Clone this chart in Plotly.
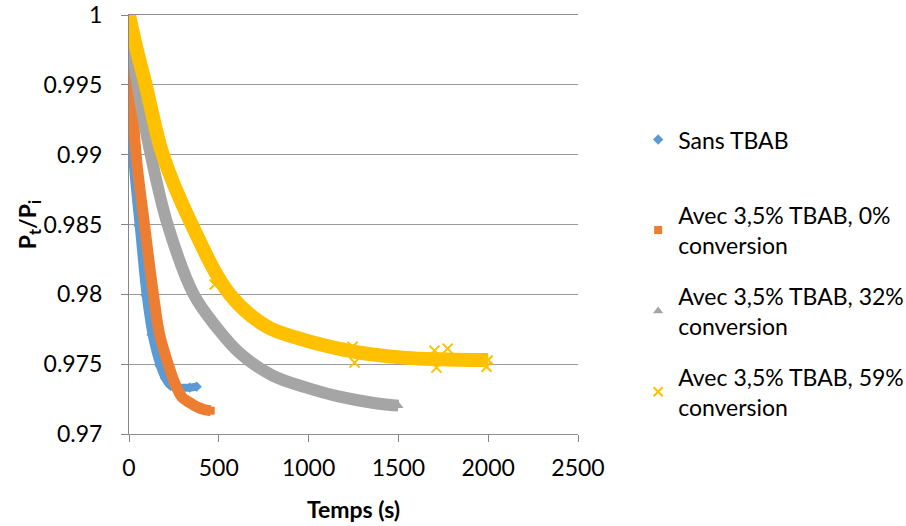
import plotly.graph_objects as go

# =============================================================================
# data (time in s, Pt/Pi)
# =============================================================================

sans_x = [0, 4, 9.5, 18, 54, 93, 126, 171, 199, 232, 282, 338, 377]
sans_y = [1.0, 0.99753, 0.99495, 0.98994, 0.98492, 0.97991, 0.97711, 0.97489,
          0.97403, 0.97346, 0.97332, 0.97332, 0.97339]

c0_x = [0, 6.7, 15, 40, 87, 137, 171, 221, 254, 293, 338, 377, 421, 455]
c0_y = [1.0, 0.99753, 0.99495, 0.98994, 0.98492, 0.97991, 0.97711, 0.97489,
        0.97367, 0.97267, 0.97224, 0.97195, 0.97174, 0.97167]

c32_x = [0, 20.6, 48, 121, 215, 360, 489, 616, 800, 989, 1173, 1356, 1500]
c32_y = [1.0, 0.99753, 0.995, 0.99, 0.985, 0.98, 0.97762, 0.9758,
         0.97418, 0.97332, 0.97267, 0.97224, 0.97203]

c59_x = [0, 43, 93, 188, 349, 561, 767, 950, 1173, 1356, 1545, 1729, 1913, 2000]
c59_y = [1.0, 0.99753, 0.995, 0.99, 0.985, 0.98, 0.97769, 0.97683, 0.9761,
         0.9757, 0.97545, 0.97535, 0.9753, 0.9753]

# a few stray points visible around the 59% band
c59_out_x = [477, 1245, 1256, 1701, 1774, 1712, 1991]
c59_out_y = [0.9807, 0.97625, 0.97511, 0.97597, 0.97611, 0.97475, 0.97482]

names = ['Sans TBAB', 'Avec 3,5% TBAB, 0%<br>conversion',
         'Avec 3,5% TBAB, 32%<br>conversion', 'Avec 3,5% TBAB, 59%<br>conversion']

y_ticks = [0.97, 0.975, 0.98, 0.985, 0.99, 0.995, 1]
y_ticktext = ['0.97', '0.975', '0.98', '0.985', '0.99', '0.995', '1']

# =============================================================================
# figure
# =============================================================================

FONT = 'Lato'
FS = 23
series = [
    (sans_x, sans_y, '#5B9BD5', 8, 'diamond', 8, 'legend2'),
    (c0_x, c0_y, '#ED7D31', 11, 'square', 8, 'legend'),
    (c32_x, c32_y, '#A5A5A5', 12, 'triangle-up', 9, 'legend'),
    (c59_x, c59_y, '#FFC000', 14, 'x-thin', 9, 'legend'),
]

fig = go.Figure()
for i, (xs, ys, col, w, sym, sz, leg) in enumerate(series):
    # dense band of points drawn as a thick line
    fig.add_trace(go.Scatter(
        x = xs, y = ys, mode = 'lines', line = dict(color = col, width = w, shape = 'spline'),
        showlegend = False, hoverinfo = 'skip', legendgroup = 'g%d' % i, legend = leg
    ))
    fig.add_trace(go.Scatter(
        x = xs, y = ys, mode = 'markers', name = names[i], legendgroup = 'g%d' % i, legend = leg,
        marker = dict(symbol = sym, size = sz, color = col,
                      line = dict(color = col, width = 2 if sym == 'x-thin' else 0))
    ))

fig.add_trace(go.Scatter(
    x = c59_out_x, y = c59_out_y, mode = 'markers', showlegend = False, legendgroup = 'g3',
    marker = dict(symbol = 'x-thin', size = 10, color = '#FFC000', line = dict(color = '#FFC000', width = 2))
))

fig.update_layout(
    width = 906, height = 526,
    margin = dict(l = 129, r = 328, t = 15, b = 92, autoexpand = False),
    plot_bgcolor = 'white', paper_bgcolor = 'white',
    font = dict(family = FONT, size = FS, color = 'black'),
    legend = dict(x = 1.134, xanchor = 'left', y = 0.5735, yanchor = 'top',
                  font = dict(size = FS), tracegroupgap = 18, bgcolor = 'rgba(0,0,0,0)'),
    legend2 = dict(x = 1.134, xanchor = 'left', y = 0.754, yanchor = 'top',
                   font = dict(size = FS), bgcolor = 'rgba(0,0,0,0)'),
)

# mirror puts a grey line along the top edge, where the y = 1 gridline sits
fig.update_xaxes(
    range = [0, 2500], dtick = 500, tick0 = 0, automargin = False,
    showgrid = False, zeroline = False, mirror = True,
    showline = True, linecolor = '#8e8e8e', linewidth = 1,
    ticks = 'outside', ticklen = 7, tickcolor = '#868686', ticklabelstandoff = 6,
    title = dict(text = '<b>Temps (s)</b>', font = dict(size = FS), standoff = 22)
)
fig.update_yaxes(
    range = [0.97, 1], tickvals = y_ticks, ticktext = y_ticktext, automargin = False,
    showgrid = True, gridcolor = '#9a9a9a', gridwidth = 1, zeroline = False,
    showline = True, linecolor = '#868686', linewidth = 1,
    ticks = 'outside', ticklen = 7, tickcolor = '#868686', ticklabelstandoff = 14,
    title = dict(text = '<b>P<sub>t</sub>/P<sub>i</sub></b>', font = dict(size = FS), standoff = 0)
)

# drop the browser's default body margin so the figure sits at the page corner
fig.write_html("out.html", config = {'displayModeBar': False},
               post_script = "document.body.style.margin = '0';")
